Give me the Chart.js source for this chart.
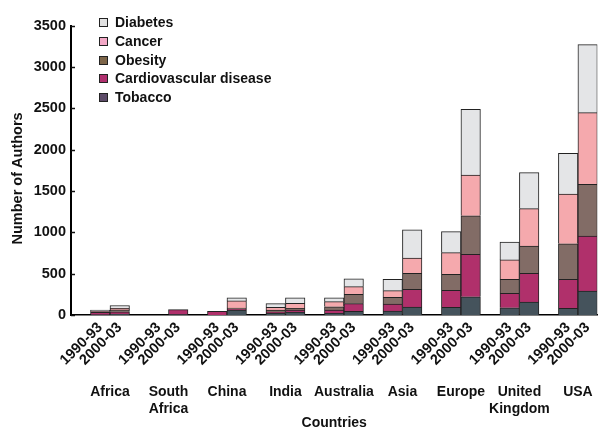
<!DOCTYPE html>
<html>
<head>
<meta charset="utf-8">
<script src="https://cdn.jsdelivr.net/npm/chart.js@4/dist/chart.umd.min.js"></script>
<style>
  html, body { margin: 0; padding: 0; background: #fff; overflow: hidden; }
  #wrap { position: relative; width: 604px; height: 440px; }
  #legend {
    position: absolute; left: 99px; top: 13px;
    font: bold 14px "Liberation Sans", Arial, sans-serif; color: #111;
  }
  #legend .row { height: 18.75px; line-height: 18.75px; white-space: nowrap; position: relative; padding-left: 16px; }
  #legend .sw { position: absolute; left: 0; top: 5px; width: 7px; height: 7px; border: 1px solid #222; }
</style>
</head>
<body>
<div id="wrap">
  <canvas id="chart" width="604" height="440"></canvas>
  <div id="legend"></div>
</div>
<script>
// Countries (multi-line names where the label wraps)
const countries = [['Africa'], ['South', 'Africa'], ['China'], ['India'], ['Australia'],
                   ['Asia'], ['Europe'], ['United', 'Kingdom'], ['USA']];
const periods = ['1990-93', '2000-03'];

// Number of authors per topic: each country gives 1990-93 then 2000-03
const tobacco        = [3, 12,   0, 5,    0, 60,   20, 36,   20, 45,   48, 95,   93, 221,  88, 157,  81, 290];
const cardiovascular = [30, 26,  0, 60,   45, 12,  16, 24,   40, 92,   85, 215,  206, 513, 175, 348, 351, 666];
const obesity        = [5, 24,   0, 0,    0, 13,   24, 21,   40, 113,  81, 195,  193, 467, 169, 330, 430, 625];
const cancer         = [5, 18,   0, 0,    0, 85,   33, 60,   61, 93,   80, 185,  262, 493, 234, 451, 602, 867];
const diabetes       = [17, 35,  0, 0,    0, 38,   44, 68,   48, 96,   138, 340, 254, 795, 217, 436, 492, 823];

const topicNames   = ['Tobacco', 'Cardiovascular disease', 'Obesity', 'Cancer', 'Diabetes'];
const topicValues  = [tobacco, cardiovascular, obesity, cancer, diabetes];
const barColors    = ['#45535c', '#b0306b', '#826c66', '#f5a9ad', '#e4e5e7'];
const swatchColors = ['#5d4b68', '#b0306e', '#7d6549', '#f3a8c6', '#e2e2e2'];

const yTicks = [0, 500, 1000, 1500, 2000, 2500, 3000, 3500];

// Each country takes three slots: a spacer, then the two periods side by side
const slotLabels = [];
countries.forEach(() => { slotLabels.push(''); periods.forEach(p => slotLabels.push(p)); });
const toSlots = vals => {
  const out = [];
  countries.forEach((c, i) => { out.push(null, vals[2 * i], vals[2 * i + 1]); });
  return out;
};

const FONT = '"Liberation Sans", Arial, sans-serif';
const INK = '#111';

const datasets = topicNames.map((name, k) => ({
  label: name,
  data: toSlots(topicValues[k]),
  backgroundColor: barColors[k],
  borderColor: '#222',
  borderWidth: { top: 1, left: 1, right: 1, bottom: 0 },
  borderSkipped: false,
  barPercentage: 1,
  categoryPercentage: 1
}));

// short inward tick marks on the value axis
const innerTicks = {
  id: 'innerTicks',
  afterDraw(chart) {
    const y = chart.scales.y, ctx = chart.ctx, left = chart.chartArea.left;
    ctx.save();
    ctx.strokeStyle = '#111';
    ctx.lineWidth = 1.5;
    yTicks.forEach(v => {
      const py = Math.round(y.getPixelForValue(v)) + 0.5;
      ctx.beginPath(); ctx.moveTo(left, py); ctx.lineTo(left + 4, py); ctx.stroke();
    });
    ctx.restore();
  }
};

const chart = new Chart(document.getElementById('chart'), {
  type: 'bar',
  data: { labels: slotLabels, datasets },
  plugins: [innerTicks],
  options: {
    responsive: false,
    animation: false,
    layout: { padding: { top: 25.7, right: 2, left: 0, bottom: 0 } },
    plugins: { legend: { display: false }, tooltip: { enabled: false } },
    scales: {
      y: {
        stacked: true,
        min: 0, max: 3500,
        afterBuildTicks: s => { s.ticks = yTicks.map(v => ({ value: v })); },
        afterFit: s => { s.width = 71; },
        grid: { display: false, drawTicks: false },
        border: { display: true, color: '#000', width: 2 },
        ticks: {
          color: INK, padding: 5, font: { family: FONT, size: 14.5, weight: 'bold' },
          callback: v => String(v)
        },
        title: {
          display: true, text: 'Number of Authors    ', color: INK,
          padding: { top: 9, bottom: 0 },
          font: { family: FONT, size: 14.5, weight: 'bold' }
        }
      },
      x: {
        stacked: true,
        offset: true,
        afterFit: s => { s.height = 66; },
        grid: { display: false, drawTicks: false },
        border: { display: true, color: '#000', width: 1.5 },
        ticks: {
          autoSkip: false, minRotation: 45, maxRotation: 45, padding: 4,
          color: INK, font: { family: FONT, size: 14.5, weight: 'bold' }
        }
      },
      x2: {
        type: 'linear',
        position: 'bottom',
        weight: 1,
        offset: false,
        min: 0, max: countries.length * 3,
        afterBuildTicks: s => { s.ticks = countries.map((c, i) => ({ value: 3 * i + 2 })); },
        afterFit: s => { s.height = 59; },
        grid: { display: false, drawTicks: false, offset: false },
        border: { display: false },
        ticks: {
          autoSkip: false, maxRotation: 0, padding: 3,
          color: INK, font: { family: FONT, size: 14, weight: 'bold' },
          callback: (v, i) => countries[i]
        },
        title: {
          display: true, text: 'Countries', color: INK,
          padding: { top: 0, bottom: 8 },
          font: { family: FONT, size: 14, weight: 'bold' }
        }
      }
    }
  }
});

// legend: top entry is the top of each stack
const legend = document.getElementById('legend');
for (let k = topicNames.length - 1; k >= 0; k--) {
  const row = document.createElement('div');
  row.className = 'row';
  const sw = document.createElement('span');
  sw.className = 'sw';
  sw.style.background = swatchColors[k];
  row.appendChild(sw);
  row.appendChild(document.createTextNode(topicNames[k]));
  legend.appendChild(row);
}
</script>
</body>
</html>
